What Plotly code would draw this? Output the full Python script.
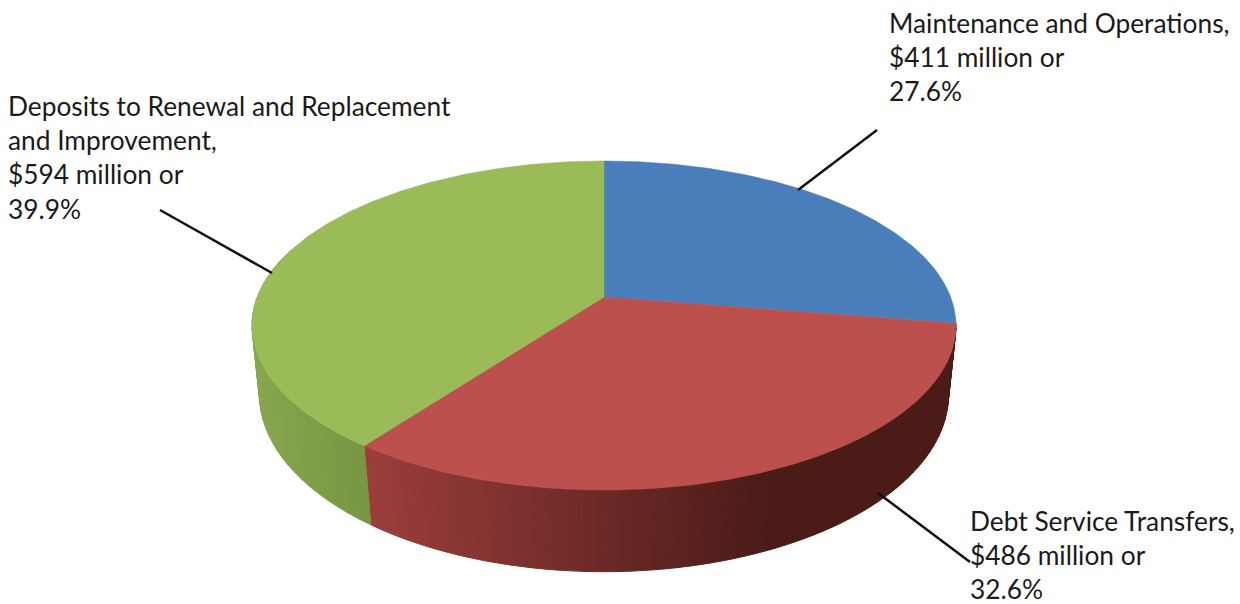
import numpy as np
import plotly.graph_objects as go

# Data
categories = ["Maintenance and Operations", "Debt Service Transfers",
              "Deposits to Renewal and Replacement and Improvement"]
values = [411, 486, 594]
labels = [
    "Maintenance and Operations,<br>$411 million or<br>27.6%",
    "Debt Service Transfers,<br>$486 million or<br>32.6%",
    "Deposits to Renewal and Replacement<br>and Improvement,<br>$594 million or<br>39.9%",
]
colors = ["#4a7ebb", "#bc504c", "#9bbb59"]

# Projection of the tilted disc onto the page (pixel-like axis units)
CX = 604.0
TOP = dict(y0=297.0, a=159.6, b=346.7, k=0.173)
BOT = dict(y0=365.0, a=173.0, b=340.0, k=0.163)


def project(theta, p):
    X, Y = np.sin(theta), np.cos(theta)
    w = 1 + p["k"] * Y
    return CX + p["b"] * X / w, p["y0"] - p["a"] * Y / w


def mix(c1, c2, f):
    f = min(max(f, 0.0), 1.0)
    return "rgb(%d,%d,%d)" % tuple(round(a + (b - a) * f) for a, b in zip(c1, c2))


# Side-wall shading: colour at left, colour at right, x range of the ramp
side_shade = [
    None,
    ((156, 62, 60), (74, 27, 23), 364, 770),
    ((136, 166, 78), (120, 150, 66), 255, 370),
]

fractions = np.cumsum([0] + values) / sum(values)
angles = 2 * np.pi * fractions

fig = go.Figure()

# side wall, one thin band at a time
for i, name in enumerate(categories):
    if side_shade[i] is None:
        continue
    shade = side_shade[i]
    lo = max(angles[i], np.pi * 0.45)
    hi = min(angles[i + 1], np.pi * 1.6)
    n = 70 if i == 1 else 30
    edges = np.linspace(lo, hi, n + 1)
    for t0, t1 in zip(edges[:-1], edges[1:]):
        ts = np.linspace(t0, t1, 3)
        xt, yt = project(ts, TOP)
        xb, yb = project(ts[::-1], BOT)
        xs = np.r_[xt, xb, xt[0]]
        ys = np.r_[yt, yb, yt[0]]
        c = mix(shade[0], shade[1], (xs.mean() - shade[2]) / (shade[3] - shade[2]))
        fig.add_trace(go.Scatter(x=xs, y=ys, mode="lines", fill="toself",
                                 fillcolor=c, line=dict(color=c, width=1),
                                 hoverinfo="skip", showlegend=False))

# top faces
for i, name in enumerate(categories):
    ts = np.linspace(angles[i], angles[i + 1], 240)
    xs, ys = project(ts, TOP)
    fig.add_trace(go.Scatter(x=np.r_[CX, xs, CX], y=np.r_[TOP["y0"], ys, TOP["y0"]],
                             mode="lines", fill="toself", fillcolor=colors[i],
                             line=dict(color=colors[i], width=0.5),
                             name=name, text=name, hoverinfo="text", showlegend=False))

# labels and leader lines
label_pos = [(887, 5), (968, 503), (6, 88)]
leaders = [((877, 130), (798, 190)), ((878, 493), (970, 562)), ((160, 210), (272, 273))]
for text, (x, y) in zip(labels, label_pos):
    fig.add_annotation(x=x, y=y, text=text, showarrow=False, xanchor="left", yanchor="top",
                       align="left", xref="x", yref="y",
                       font=dict(family="Lato", size=26.3, color="#1a1a1a"))
for (x0, y0), (x1, y1) in leaders:
    fig.add_shape(type="line", x0=x0, y0=y0, x1=x1, y1=y1, xref="x", yref="y",
                  line=dict(color="#111111", width=2.5))

fig.update_layout(width=1240, height=604, margin=dict(l=0, r=0, t=0, b=0),
                  paper_bgcolor="white", plot_bgcolor="white", showlegend=False,
                  xaxis=dict(range=[0, 1240], visible=False, fixedrange=True),
                  yaxis=dict(range=[604, 0], visible=False, fixedrange=True))
fig.write_html("out.html", config=dict(displayModeBar=False),
               post_script="document.body.style.margin='0';document.body.style.overflow='hidden';")
